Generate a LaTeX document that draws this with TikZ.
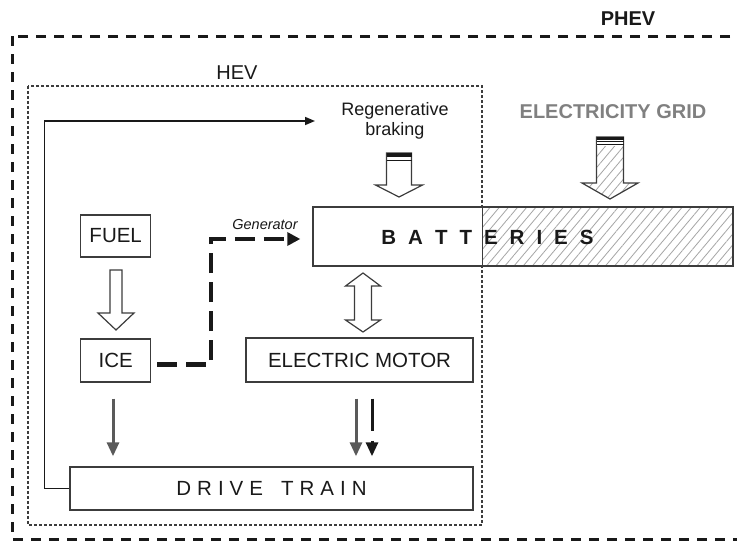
\documentclass[tikz,border=0pt]{standalone}
\usepackage{fontspec}
\setmainfont{Liberation Sans}
\usetikzlibrary{arrows.meta,patterns.meta,calc}
\definecolor{boxline}{RGB}{60,60,60}
\definecolor{txt}{RGB}{25,25,25}
\definecolor{arrgray}{RGB}{90,90,90}
\definecolor{gridtxt}{RGB}{128,128,128}
\definecolor{hatchc}{RGB}{165,165,165}
\begin{document}
\begin{tikzpicture}[x=1pt,y=-1pt,
  box/.style={draw=boxline, line width=1.4pt, inner sep=0pt, text=txt, font=\fontsize{20.5}{24}\selectfont},
  lbl/.style={inner sep=0pt, text=txt, font=\fontsize{20}{24}\selectfont},
  block/.style={draw=boxline, line width=1.2pt, fill=white, line join=miter},
  hatchfill/.style={pattern={Lines[angle=50,distance=7pt,line width=0.8pt]}, pattern color=hatchc},
  grayarr/.style={draw=arrgray, line width=3pt, -{Triangle[length=14pt,width=12pt]}},
  blackarr/.style={draw=txt, line width=3pt, dash pattern=on 32pt off 10pt, -{Triangle[length=14pt,width=12pt]}},
  genline/.style={draw=txt, line width=4.5pt, dash pattern=on 20pt off 9pt, -{Triangle[length=13pt,width=13pt]}},
  fbline/.style={draw=txt, line width=1.5pt, -{Triangle[length=10pt,width=8pt]}},
  phevbox/.style={draw=txt, line width=3pt, dash pattern=on 10pt off 8pt},
  hevbox/.style={draw=boxline, line width=1.5pt, dash pattern=on 3pt off 2pt}
]
\useasboundingbox (0,0) rectangle (737,541);
\clip (0,0) rectangle (737,541);

% frames
\draw[phevbox] (12,36) rectangle (750,539);
\node[lbl, font=\bfseries\fontsize{20}{24}\selectfont] (phev) at (628,19) {PHEV};
\draw[hevbox] (28,86) rectangle (482,525);
\node[lbl] (hev) at (237,73) {HEV};

% batteries
\fill[white] (313,207) rectangle (733,266);
\fill[hatchfill] (482,207) rectangle (733,266);
\node[box, minimum width=420pt, minimum height=59pt] (bat) at (523,236.5) {};
\draw[boxline, line width=1pt] (482,207) -- (482,266);
\node[lbl, font=\bfseries\fontsize{20.5}{24}\selectfont] (battxt) at (487.5,237)
  {B\kern12pt A\kern12pt T\kern12pt T\kern12pt E\kern12pt R\kern12pt I\kern12pt E\kern12pt S};

% boxes
\node[box, minimum width=70pt, minimum height=42pt] (fuel) at (115.7,236) {FUEL};
\node[box, minimum width=70pt, minimum height=43pt] (ice) at (115.7,360.5) {ICE};
\node[box, minimum width=227pt, minimum height=44pt] (em) at (359.5,360) {ELECTRIC MOTOR};
\node[box, minimum width=403pt, minimum height=43pt] (dt) at (271.5,488.5)
  {D\kern6pt R\kern6pt I\kern6pt V\kern6pt E\kern18pt T\kern6pt R\kern6pt A\kern6pt I\kern6pt N};

% labels
\node[lbl, font=\fontsize{18}{20}\selectfont, align=center] (regen) at (395,121) {Regenerative\\braking};
\node[lbl, text=gridtxt, font=\bfseries\fontsize{20}{24}\selectfont] (grid) at (613,112) {ELECTRICITY GRID};
\node[lbl, font=\itshape\fontsize{14.5}{17}\selectfont] (genlbl) at (265,225) {Generator};

% regenerative braking block arrow
\draw[block] (386.5,153) -- (386.5,185) -- (375.5,185) -- (399,197) -- (422.5,185) -- (411.5,185) -- (411.5,153) -- cycle;
\fill[txt] (386.5,153) rectangle (411.5,157);
\draw[txt, line width=1pt] (386.5,160) -- (411.5,160);

% grid block arrow (hatched)
\fill[white] (596.5,137) -- (596.5,183) -- (582,183) -- (610,199) -- (638,183) -- (623.5,183) -- (623.5,137) -- cycle;
\draw[draw=boxline, line width=1.2pt, hatchfill] (596.5,137) -- (596.5,183) -- (582,183) -- (610,199) -- (638,183) -- (623.5,183) -- (623.5,137) -- cycle;
\fill[white] (597,138) rectangle (623,145.5);
\fill[txt] (596.5,137) rectangle (623.5,139.5);
\draw[txt, line width=1pt] (596.5,141.5) -- (623.5,141.5);
\draw[txt, line width=1.2pt] (596.5,144.5) -- (623.5,144.5);

% fuel -> ice block arrow
\draw[block] (110,270) -- (110,313) -- (98,313) -- (116,330) -- (134,313) -- (122,313) -- (122,270) -- cycle;

% batteries <-> electric motor double arrow
\draw[block] (363,273) -- (380.5,286) -- (371.5,286) -- (371.5,320) -- (380.5,320) -- (363,332)
  -- (345.5,320) -- (354.5,320) -- (354.5,286) -- (345.5,286) -- cycle;

% connectors
\draw[genline] ([xshift=6pt,yshift=-4pt]ice.east) -| (211,239) -- ([xshift=-12pt,yshift=-2.5pt]bat.west);
\coordinate (fbend) at (315,121);
\draw[fbline] (dt.west) -- ++(-25,0) |- (fbend);
\draw[grayarr] ($(ice.south)+(-2.7,16)$) -- ($(ice.south |- dt.north)+(-2.7,-10)$);
\draw[grayarr] ($(em.south)+(-3.5,16)$) -- ($(em.south |- dt.north)+(-3.5,-10)$);
\draw[blackarr] ($(em.south)+(12.5,16)$) -- ($(em.south |- dt.north)+(12.5,-10)$);
\end{tikzpicture}
\end{document}
